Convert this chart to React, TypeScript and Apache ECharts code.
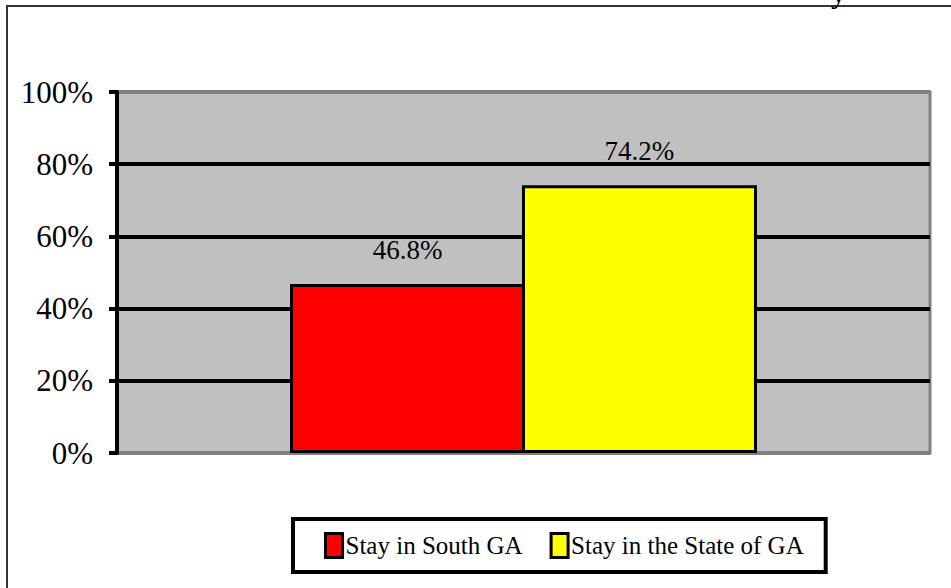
import React, { useEffect, useRef } from "react";
import * as echarts from "echarts";

const seriesNames = ["Stay in South GA", "Stay in the State of GA"];
const seriesValues = [46.8, 74.2];
const seriesColors = ["#ff0000", "#ffff00"];
const categories = [""];
const yTicks = [0, 20, 40, 60, 80, 100];

const FONT = "Liberation Serif";

export default function App() {
  const ref = useRef<HTMLDivElement>(null);
  useEffect(() => {
    if (!ref.current) return;
    const chart = echarts.init(ref.current, undefined, { renderer: "svg" });
    chart.setOption({
      animation: false,
      backgroundColor: "#ffffff",
      textStyle: { fontFamily: FONT },
      grid: {
        left: 117,
        right: 21,
        top: 92,
        bottom: 135,
        show: true,
        backgroundColor: "#c0c0c0",
        borderColor: "#808080",
        borderWidth: 3,
      },
      xAxis: {
        type: "category",
        data: categories,
        axisLine: { show: false },
        axisTick: { show: false },
        axisLabel: { show: false },
      },
      yAxis: {
        type: "value",
        min: yTicks[0],
        max: yTicks[yTicks.length - 1],
        interval: 20,
        axisLine: { show: true, lineStyle: { color: "#000", width: 4 } },
        axisTick: { show: true, length: 8, lineStyle: { color: "#000", width: 4 } },
        axisLabel: {
          formatter: "{value}%",
          margin: 24,
          fontSize: 31,
          fontFamily: FONT,
          color: "#000",
        },
        splitLine: {
          show: true,
          lineStyle: {
            color: ["#808080", "#000", "#000", "#000", "#000", "#808080"],
            width: 4,
          },
        },
      },
      legend: {
        left: 293,
        top: 519,
        orient: "horizontal",
        padding: [13, 22, 13, 31],
        borderColor: "#000",
        borderWidth: 4,
        backgroundColor: "#fff",
        itemWidth: 17,
        itemHeight: 24,
        itemGap: 27,
        icon: "rect",
        itemStyle: { borderColor: "#000", borderWidth: 3 },
        textStyle: { fontSize: 25, fontFamily: FONT, color: "#000", padding: [0, 0, 0, -2] },
        data: seriesNames,
      },
      graphic: [
        {
          type: "rect",
          shape: { x: 7, y: 6, width: 1000, height: 1000 },
          style: { fill: "none", stroke: "#333", lineWidth: 2 },
          silent: true,
        },
        {
          type: "text",
          x: 831,
          y: 7,
          style: {
            text: "y",
            fontSize: 30,
            fontFamily: FONT,
            fill: "#000",
            verticalAlign: "bottom",
          },
          silent: true,
        },
      ],
      series: seriesNames.map((name, i) => ({
        name,
        type: "bar",
        data: [seriesValues[i]],
        barWidth: 235,
        barGap: "-1.3%",
        itemStyle: { color: seriesColors[i], borderColor: "#000", borderWidth: 3 },
        label: {
          show: true,
          position: "top",
          distance: 21,
          formatter: "{c}%",
          fontSize: 27,
          fontFamily: FONT,
          color: "#000",
        },
      })),
    });
    return () => chart.dispose();
  }, []);
  return (
    <div
      ref={ref}
      style={{ position: "absolute", left: 0, top: 0, width: 951, height: 588, background: "#fff" }}
    />
  );
}
